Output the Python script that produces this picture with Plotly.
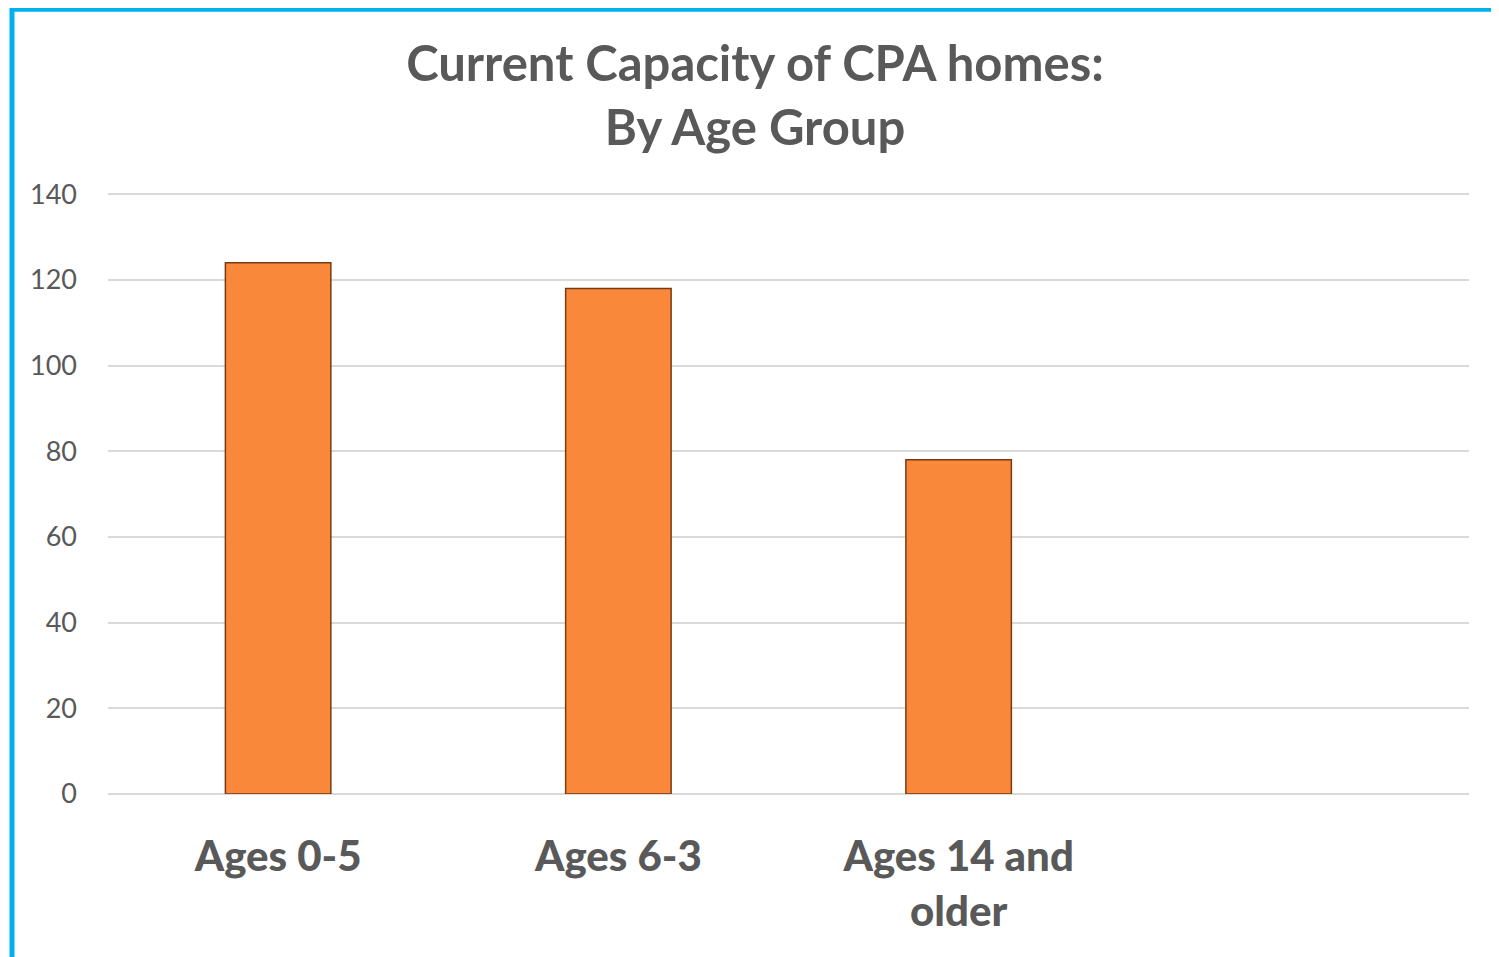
import plotly.graph_objects as go

categories = ["Ages 0-5", "Ages 6-3", "Ages 14 and<br>older", " "]
values = [124, 118, 78, None]
y_ticks = [0, 20, 40, 60, 80, 100, 120, 140]

# the page body adds an 8px offset, so figure coordinates are page - 8
OFF = 8
W, H = 1499, 957
Y_MAX = 140.3
L, R, B = 108 - OFF, 1469 - OFF, 794 - OFF
PX_PER_UNIT = 600 / 140
T = B - Y_MAX * PX_PER_UNIT

def px_x(px):
    return (px - OFF - L) / (R - L)

def px_y(py):
    return (B - (py - OFF)) / (B - T)

fig = go.Figure()
fig.add_trace(go.Bar(
    x=categories, y=values,
    marker=dict(color="#F9883A", line=dict(color="#7A3A10", width=1.5)),
    hoverinfo="skip",
))

fig.update_layout(
    width=W, height=H,
    margin=dict(l=L, r=W - R, t=T, b=H - B, pad=0),
    paper_bgcolor="white", plot_bgcolor="white",
    bargap=0.69,
    showlegend=False,
    font=dict(family="Lato", color="#595959"),
    title=dict(
        text="<b>Current Capacity of CPA homes:<br>By Age Group</b>",
        x=(755 - OFF) / W, xanchor="center", xref="container",
        y=1 - 73 / H, yanchor="middle", yref="container",
        font=dict(family="Lato", size=49, color="#595959", weight=900),
    ),
    xaxis=dict(
        showgrid=False, showline=False, zeroline=False,
        tickfont=dict(family="Lato", size=42, color="#595959", weight=900),
        ticks="", ticklabelstandoff=34,
    ),
    yaxis=dict(
        range=[0, Y_MAX], tickvals=y_ticks,
        showgrid=True, gridcolor="#D9D9D9", gridwidth=1.5,
        zeroline=True, zerolinecolor="#D9D9D9", zerolinewidth=1.5,
        showline=False, ticks="",
        tickfont=dict(family="Lato", size=27, color="#595959"),
        ticklabelstandoff=30,
    ),
    shapes=[dict(
        type="rect", xref="paper", yref="paper",
        x0=px_x(12), x1=px_x(1497), y0=px_y(962), y1=px_y(9),
        line=dict(color="#00B0F0", width=5), fillcolor="rgba(0,0,0,0)",
        layer="above",
    )],
)

fig.write_html("out.html")
